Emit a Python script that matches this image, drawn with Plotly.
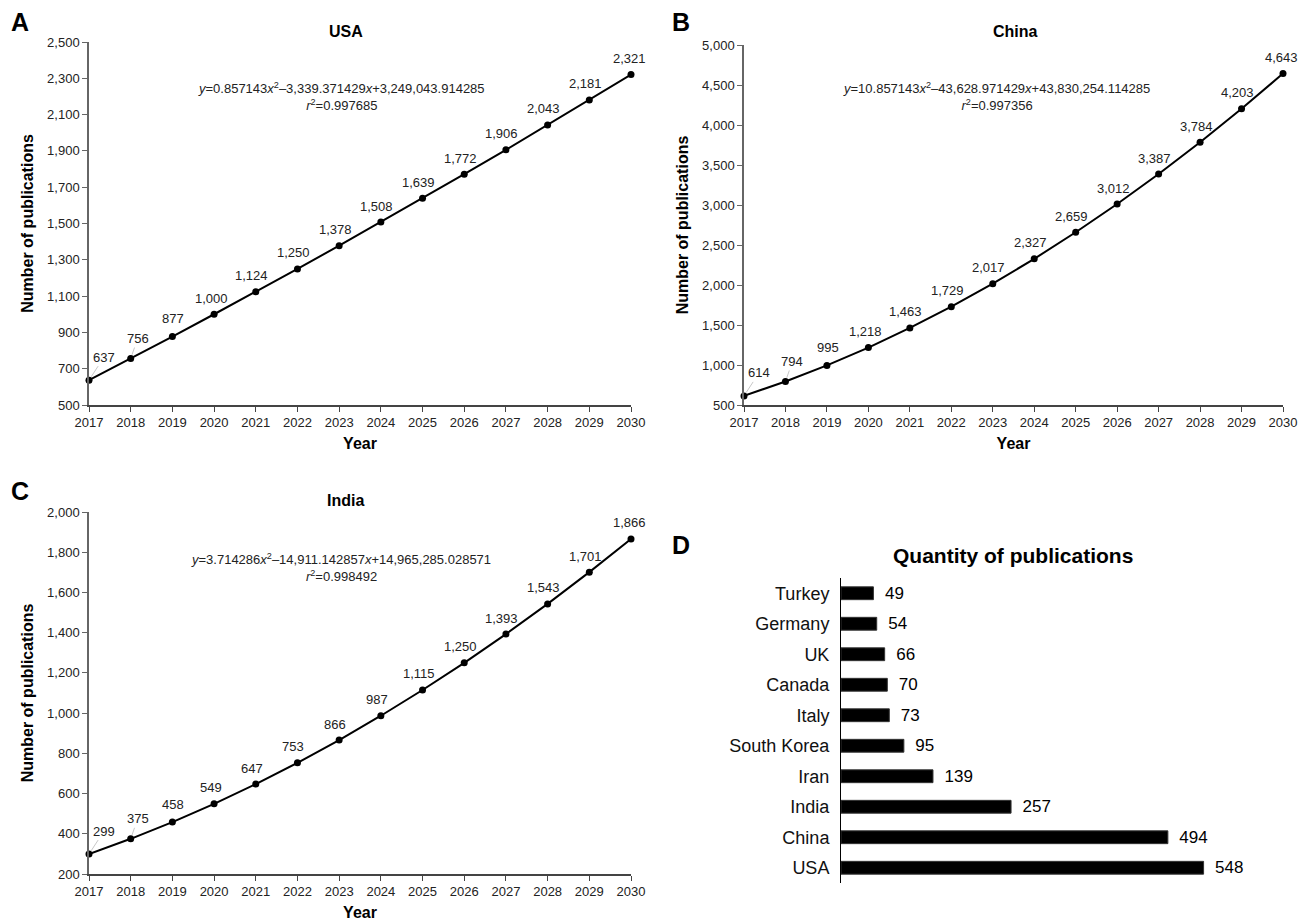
import plotly.graph_objects as go

years = list(range(2017, 2031))
usa = [637, 756, 877, 1000, 1124, 1250, 1378, 1508, 1639, 1772, 1906, 2043, 2181, 2321]
china = [614, 794, 995, 1218, 1463, 1729, 2017, 2327, 2659, 3012, 3387, 3784, 4203, 4643]
india = [299, 375, 458, 549, 647, 753, 866, 987, 1115, 1250, 1393, 1543, 1701, 1866]

countries = ["USA", "China", "India", "Iran", "South Korea", "Italy", "Canada", "UK", "Germany", "Turkey"]
quantity = [548, 494, 257, 139, 95, 73, 70, 66, 54, 49]

eq_usa = "<i>y</i>=0.857143<i>x</i><sup>2</sup>–3,339.371429<i>x</i>+3,249,043.914285<br><i>r</i><sup>2</sup>=0.997685"
eq_china = "<i>y</i>=10.857143<i>x</i><sup>2</sup>–43,628.971429<i>x</i>+43,830,254.114285<br><i>r</i><sup>2</sup>=0.997356"
eq_india = "<i>y</i>=3.714286<i>x</i><sup>2</sup>–14,911.142857<i>x</i>+14,965,285.028571<br><i>r</i><sup>2</sup>=0.998492"

FONT = "Liberation Sans, Arial, Helvetica, sans-serif"
W, H = 1300, 924

def px(x):
    return x / W

def py(y):
    return 1 - y / H

fig = go.Figure()

panels = [
    ("x", "y", usa),
    ("x2", "y2", china),
    ("x3", "y3", india),
]
for xa, ya, vals in panels:
    fig.add_trace(go.Scatter(
        x=years, y=vals, mode="lines+markers", xaxis=xa, yaxis=ya,
        line=dict(color="black", width=2),
        marker=dict(color="black", size=7),
        cliponaxis=False, showlegend=False, hoverinfo="x+y",
    ))

fig.add_trace(go.Bar(
    x=quantity, y=countries, orientation="h", xaxis="x4", yaxis="y4",
    marker=dict(color="black", line=dict(color="#333", width=1)),
    texttemplate="\u2002%{x}", textposition="outside", constraintext="none",
    textfont=dict(size=17, color="black", family=FONT),
    cliponaxis=False, showlegend=False,
))

annotations = []
ax_off = [15, 7, 1, -3, -4, -4, -4, -4, -4, -4, -4, -4, -4, -2]
ay_off = [-23, -20, -18, -16, -16, -16, -16, -16, -16, -16, -16, -16, -16, -16]
for xa, ya, vals in panels:
    for i, (yr, v) in enumerate(zip(years, vals)):
        annotations.append(dict(
            x=yr, y=v, xref=xa, yref=ya, text=f"{v:,}",
            showarrow=True, ax=ax_off[i], ay=ay_off[i], arrowhead=0,
            arrowwidth=1, standoff=4,
            arrowcolor="#c8c8c8" if i < 2 else "rgba(0,0,0,0)",
            font=dict(size=13, color="#222", family=FONT),
        ))

def paper_note(txt, xc, yc, size, color="black"):
    return dict(x=px(xc), y=py(yc), xref="paper", yref="paper", text=txt,
                showarrow=False, align="center", xanchor="center", yanchor="middle",
                font=dict(size=size, color=color, family=FONT))

# equations
for txt, xc, yc in [(eq_usa, 341, 97), (eq_china, 996, 97), (eq_india, 341, 567)]:
    annotations.append(paper_note(txt, xc, yc, 13, "#222"))

# panel titles
for txt, xc, yc, sz in [("<b>USA</b>", 346, 31, 16), ("<b>China</b>", 1015, 31, 16),
                         ("<b>India</b>", 346, 500, 16),
                         ("<b>Quantity of publications</b>", 1013, 555, 21)]:
    annotations.append(paper_note(txt, xc, yc, sz))

# panel letters
for txt, xc, yc in [("A", 20, 22), ("B", 681, 22), ("C", 20, 491), ("D", 681, 545)]:
    annotations.append(paper_note(f"<b>{txt}</b>", xc, yc, 25))

xcommon = dict(range=[2017, 2030], dtick=1, tick0=2017, ticks="outside", ticklen=5,
               tickcolor="#444", showline=True, linecolor="#444", linewidth=1.5,
               showgrid=False, zeroline=False, automargin=False,
               tickfont=dict(size=13, color="#222", family=FONT),
               title=dict(text="<b>Year</b>", font=dict(size=16, color="black", family=FONT), standoff=8))
ycommon = dict(ticks="outside", ticklen=5, tickcolor="#666", showline=True, linecolor="#666",
               linewidth=1.5, showgrid=False, zeroline=False, tickformat=",", automargin=False,
               tickfont=dict(size=13, color="#222", family=FONT),
               title=dict(text="<b>Number of publications</b>",
                          font=dict(size=16, color="black", family=FONT), standoff=10))

fig.update_layout(
    width=W, height=H, margin=dict(l=0, r=0, t=0, b=0, autoexpand=False),
    paper_bgcolor="white", plot_bgcolor="white",
    font=dict(family=FONT, color="black"),
    xaxis=dict(domain=[px(89), px(631)], anchor="y", **xcommon),
    yaxis=dict(domain=[py(405), py(42)], anchor="x", range=[500, 2500], dtick=200, tick0=500, **ycommon),
    xaxis2=dict(domain=[px(744), px(1283)], anchor="y2", **xcommon),
    yaxis2=dict(domain=[py(405), py(45)], anchor="x2", range=[500, 5000], dtick=500, tick0=500, **ycommon),
    xaxis3=dict(domain=[px(89), px(631)], anchor="y3", **xcommon),
    yaxis3=dict(domain=[py(874), py(512)], anchor="x3", range=[200, 2000], dtick=200, tick0=200, **ycommon),
    xaxis4=dict(domain=[px(841), px(1238)], anchor="y4", range=[0, 600], visible=False, automargin=False),
    yaxis4=dict(domain=[py(883), py(578)], anchor="x4", showline=True, linecolor="black",
                linewidth=1, ticks="", showgrid=False, zeroline=False, automargin=False,
                ticklabelstandoff=7,
                tickfont=dict(size=18, color="#111", family=FONT)),
    bargap=0.58,
    annotations=annotations,
)

fig.write_html("out.html", config={"displayModeBar": False},
               post_script="document.body.style.margin='0';")
